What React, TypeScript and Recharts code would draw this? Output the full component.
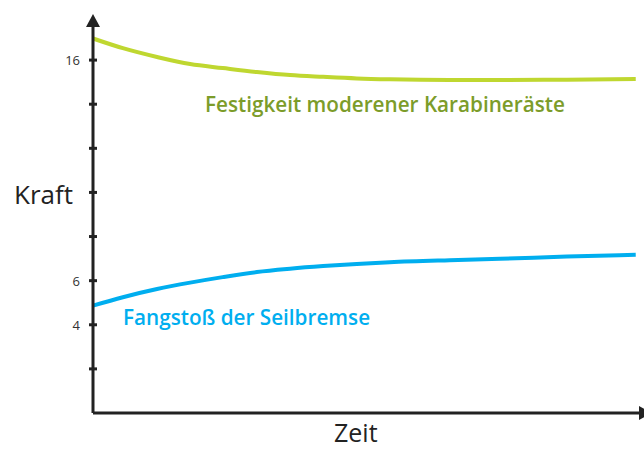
import { LineChart, Line, XAxis, YAxis, ReferenceDot } from "recharts";

// time (arbitrary units) and force readings
const zeit = [0, 0.55, 1.18, 1.79, 2.39, 3.02, 3.63, 4.24, 4.86, 5.47, 6.57, 7.5, 8.73, 10];
const festigkeit = [16.98, 16.54, 16.14, 15.82, 15.64, 15.46, 15.32, 15.24, 15.17, 15.13, 15.1, 15.1, 15.11, 15.14];
const fangstoss = [4.87, 5.25, 5.62, 5.91, 6.16, 6.39, 6.54, 6.66, 6.76, 6.84, 6.93, 6.99, 7.09, 7.17];

const yTicks = [2, 4, 6, 8, 10, 12, 14, 16];
const labelledTicks = [4, 6, 16];
const Y_MAX = 17.5;
const X_MAX = 10.06;

const data = zeit.map((t, i) => ({ t, festigkeit: festigkeit[i], fangstoss: fangstoss[i] }));

const AXIS = "#222";
const FONT = "'Open Sans', sans-serif";

function Tick(props: any) {
  const { x, y, payload } = props;
  const show = labelledTicks.includes(payload.value);
  return (
    <g>
      <line x1={x - 4} x2={x + 4} y1={y} y2={y} stroke={AXIS} strokeWidth={3} />
      {show && (
        <text x={x - 13} y={y} textAnchor="end" dominantBaseline="central" fontSize={13} fill="#333" fontFamily={FONT}>
          {payload.value}
        </text>
      )}
    </g>
  );
}

function ArrowUp(props: any) {
  const { cx, cy } = props;
  return <path d={`M${cx - 7},${cy} L${cx + 7},${cy} L${cx},${cy - 13} Z`} fill={AXIS} />;
}

function ArrowRight(props: any) {
  const { cx, cy } = props;
  return <path d={`M${cx},${cy - 7} L${cx},${cy + 7} L${cx + 13},${cy} Z`} fill={AXIS} />;
}

export default function App() {
  return (
    <div style={{ position: "absolute", left: 0, top: 0, width: 644, height: 450, background: "#fff" }}>
      <LineChart width={644} height={450} data={data} margin={{ top: 27, right: 5, bottom: 36, left: 0 }}>
        <XAxis
          dataKey="t"
          type="number"
          domain={[0, X_MAX]}
          height={1}
          tick={false}
          tickLine={false}
          axisLine={{ stroke: AXIS, strokeWidth: 3 }}
        />
        <YAxis
          type="number"
          domain={[0, Y_MAX]}
          ticks={yTicks}
          width={93}
          tickSize={0}
          tickMargin={0}
          tick={<Tick />}
          axisLine={{ stroke: AXIS, strokeWidth: 3 }}
        />
        <Line
          type="monotone"
          dataKey="festigkeit"
          stroke="#bfd730"
          strokeWidth={4}
          dot={false}
          isAnimationActive={false}
        />
        <Line
          type="monotone"
          dataKey="fangstoss"
          stroke="#00aeef"
          strokeWidth={4}
          dot={false}
          isAnimationActive={false}
        />
        <ReferenceDot x={0} y={Y_MAX} ifOverflow="visible" shape={<ArrowUp />} />
        <ReferenceDot x={X_MAX} y={0} ifOverflow="visible" shape={<ArrowRight />} />
        <text x={205} y={112} fontSize={20.7} fontWeight={600} fill="#7c9c2a" fontFamily={FONT}>
          Festigkeit moderener Karabineräste
        </text>
        <text x={123} y={325} fontSize={20.7} fontWeight={600} fill="#00aeef" fontFamily={FONT}>
          Fangstoß der Seilbremse
        </text>
        <text x={14} y={204} fontSize={26} fill="#222" fontFamily={FONT}>
          Kraft
        </text>
        <text x={334} y={442} fontSize={25} fill="#222" fontFamily={FONT}>
          Zeit
        </text>
      </LineChart>
    </div>
  );
}
